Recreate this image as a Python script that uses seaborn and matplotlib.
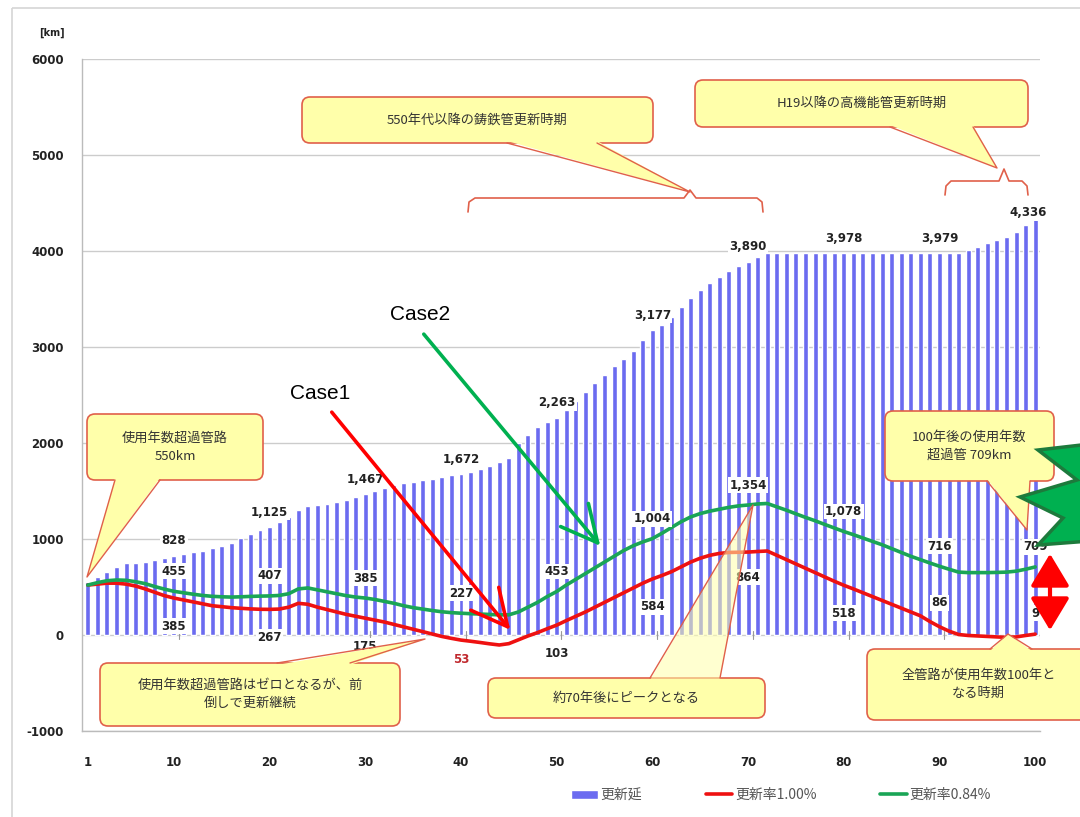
import matplotlib
matplotlib.use("Agg")
import numpy as np
import pandas as pd
import matplotlib.pyplot as plt
import matplotlib.transforms as mtransforms
from matplotlib.patches import Polygon, FancyBboxPatch, FancyArrowPatch, Rectangle
from matplotlib.lines import Line2D
import seaborn as sns

# ---- data -------------------------------------------------------------
years = list(range(1, 101))

renewal_length = [
    550, 604, 660, 705, 745, 752, 762, 780, 805, 828,
    845, 860, 880, 905, 930, 960, 1010, 1050, 1090, 1125,
    1175, 1230, 1300, 1340, 1350, 1360, 1385, 1410, 1440, 1467,
    1500, 1528, 1560, 1585, 1595, 1612, 1630, 1650, 1662, 1672,
    1700, 1730, 1760, 1800, 1845, 2000, 2083, 2167, 2215, 2263,
    2344, 2440, 2534, 2621, 2708, 2800, 2880, 2960, 3070, 3177,
    3230, 3310, 3415, 3510, 3590, 3665, 3730, 3790, 3840, 3890,
    3935, 3978, 3978, 3978, 3978, 3978, 3978, 3978, 3978, 3978,
    3978, 3978, 3978, 3978, 3978, 3978, 3978, 3978, 3979, 3979,
    3979, 3979, 4010, 4042, 4083, 4115, 4146, 4198, 4271, 4336,
]

rate_100 = [
    520, 530, 540, 540, 530, 510, 480, 445, 410, 385,
    365, 345, 325, 305, 295, 285, 278, 272, 268, 267,
    270, 290, 330, 320, 290, 265, 240, 215, 195, 175,
    155, 135, 110, 85, 60, 35, 10, -15, -35, -53,
    -65, -78, -92, -104, -90, -50, -10, 25, 65, 103,
    150, 195, 240, 290, 340, 390, 440, 490, 540, 584,
    620, 660, 710, 760, 800, 830, 850, 860, 862, 864,
    870, 875, 830, 785, 740, 695, 650, 605, 560, 518,
    480, 440, 400, 360, 320, 280, 240, 200, 140, 86,
    40, 5, -5, -10, -15, -20, -25, -20, -5, 9,
]

rate_084 = [
    520, 545, 565, 573, 570, 555, 535, 505, 478, 455,
    440, 425, 412, 403, 398, 395, 398, 402, 405, 407,
    412, 430, 480, 490, 470, 450, 430, 410, 395, 385,
    370, 350, 330, 305, 285, 270, 255, 242, 233, 227,
    222, 218, 214, 210, 210, 240, 290, 340, 400, 453,
    520, 580, 640, 700, 760, 820, 880, 930, 970, 1004,
    1060, 1120, 1180, 1230, 1265, 1290, 1310, 1330, 1345, 1354,
    1365, 1370, 1335, 1300, 1262, 1225, 1190, 1152, 1115, 1078,
    1045, 1010, 975, 940, 900, 860, 820, 785, 750, 716,
    685, 655, 650, 650, 650, 652, 655, 665, 685, 709,
]

label_years = [10, 20, 30, 40, 50, 60, 70, 80, 90, 100]
x_ticks = [1, 10, 20, 30, 40, 50, 60, 70, 80, 90, 100]
y_ticks = [-1000, 0, 1000, 2000, 3000, 4000, 5000, 6000]

series_names = ["更新延", "更新率1.00%", "更新率0.84%"]

df = pd.DataFrame({"year": years, "length": renewal_length,
                   "r100": rate_100, "r084": rate_084})

# ---- style ------------------------------------------------------------
sns.set_theme(style="white")
JP = ["Noto Sans CJK JP", "DejaVu Sans"]
plt.rcParams["font.family"] = JP

BAR = "#6b6bf0"
RED = "#ee1111"
GREEN = "#1aa556"
FILL = "#ffffaa"
EDGE = "#e0604a"

fig = plt.figure(figsize=(10.8, 8.17), dpi=100)
W, H = 1080, 817
ax = fig.add_axes([82 / W, 1 - 731 / H, 958 / W, 672 / H])

# pixel-based transform for callouts and decorations
PIX = mtransforms.Affine2D().scale(1 / W, -1 / H).translate(0, 1) + fig.transFigure

# ---- marks ------------------------------------------------------------
sns.barplot(data=df, x="year", y="length", native_scale=True, color=BAR,
            saturation=1, width=0.52, ax=ax, label=series_names[0], zorder=2)
sns.lineplot(data=df, x="year", y="r100", color=RED, linewidth=2.6, ax=ax,
             label=series_names[1], zorder=4)
sns.lineplot(data=df, x="year", y="r084", color=GREEN, linewidth=2.6, ax=ax,
             label=series_names[2], zorder=4)

ax.set_xlim(0.4, 100.5)
ax.set_ylim(-1000, 6000)
ax.set_xticks(x_ticks)
ax.set_yticks(y_ticks)
ax.set_xticklabels([str(t) for t in x_ticks], fontsize=8.5, fontweight="bold",
                   color="#222222", family=["DejaVu Sans"])
ax.set_yticklabels([str(t) for t in y_ticks], fontsize=8.5, fontweight="bold",
                   color="#222222", family=["DejaVu Sans"])
ax.tick_params(axis="x", length=0, pad=18)
ax.tick_params(axis="y", length=5, color="#bbbbbb", pad=8)
ax.set_xlabel("")
ax.set_ylabel("")
ax.grid(axis="y", color="#cccccc", linewidth=1, zorder=0)
ax.set_axisbelow(True)
for side in ["top", "right"]:
    ax.spines[side].set_visible(False)
for side in ["left", "bottom"]:
    ax.spines[side].set_color("#bbbbbb")
    ax.spines[side].set_linewidth(1)

# small category marks along the zero line
for t in label_years:
    ax.plot([t + 0.5, t + 0.5], [-45, 45], color="#999999", lw=0.8, zorder=3)

ax.text(-0.045, 1.035, "[km]", transform=ax.transAxes, fontsize=7,
        fontweight="bold", color="#222222", family=["DejaVu Sans"])

# ---- value labels -----------------------------------------------------
lab_kw = dict(textcoords="offset pixels", ha="center", va="center",
              fontsize=8.5, fontweight="bold", family=["DejaVu Sans"],
              zorder=6,
              bbox=dict(boxstyle="square,pad=0.12", fc="white", ec="none"))

bar_off = {10: (0, 15), 100: (-7, 6)}
red_off = {40: (0, -19), 70: (0, -25), 90: (0, 24), 100: (0, 21)}
for yr in label_years:
    i = yr - 1
    v = renewal_length[i]
    ax.annotate(f"{v:,}", (yr, v), xytext=bar_off.get(yr, (0, 15)),
                color="#222222", **lab_kw)
    g = rate_084[i]
    ax.annotate(f"{g:,}", (yr, g), xytext=(0, 20), color="#222222", **lab_kw)
    r = rate_100[i]
    ax.annotate(f"{abs(r):,}", (yr, r), xytext=red_off.get(yr, (0, -28)),
                color="#c0282d" if r < 0 else "#222222", **lab_kw)


# ---- callouts ---------------------------------------------------------
def callout(box, base, tip, text, fs=9.5, wedge_alpha=1.0):
    x0, y0, x1, y1 = box
    fig.add_artist(FancyBboxPatch(
        (x0, y0), x1 - x0, y1 - y0,
        boxstyle="round,pad=0,rounding_size=8", transform=PIX,
        fc=FILL, ec=EDGE, lw=1.2, zorder=10, clip_on=False))
    (bx1, by1), (bx2, by2) = base
    # fill of the pointer, reaching slightly inside the box
    inward = 2 if by1 >= y1 - 1 else -2
    fig.add_artist(Polygon(
        [(bx1, by1 - inward), tip, (bx2, by2 - inward)], closed=True,
        transform=PIX, fc=FILL, ec="none", alpha=wedge_alpha, zorder=10.5))
    fig.add_artist(Line2D([bx1, tip[0], bx2], [by1, tip[1], by2],
                          transform=PIX, color=EDGE, lw=1.0, zorder=10.6))
    fig.text((x0 + x1) / 2 / W, 1 - (y0 + y1) / 2 / H, text, ha="center",
             va="center", fontsize=fs, color="#333333", family=JP,
             zorder=11, linespacing=1.5)


callout((302, 97, 653, 143), ((507, 143), (597, 143)), (690, 192),
        "550年代以降の鋳鉄管更新時期")
callout((695, 80, 1028, 127), ((890, 127), (973, 127)), (997, 168),
        "H19以降の高機能管更新時期")
callout((87, 414, 263, 480), ((115, 480), (160, 480)), (87, 577),
        "使用年数超過管路\n550km")
callout((100, 663, 400, 726), ((277, 663), (350, 663)), (425, 639),
        "使用年数超過管路はゼロとなるが、前\n倒しで更新継続")
callout((488, 678, 765, 718), ((650, 678), (720, 678)), (753, 505),
        "約70年後にピークとなる", wedge_alpha=0.55)
callout((885, 411, 1054, 481), ((987, 481), (1030, 481)), (1027, 530),
        "100年後の使用年数\n超過管 709km")
callout((867, 649, 1090, 720), ((990, 649), (1032, 649)), (1008, 634),
        "全管路が使用年数100年と\nなる時期")

# period braces
fig.add_artist(Line2D([468, 469, 475, 684, 690, 696, 757, 762, 763],
                      [212, 202, 198, 198, 190, 198, 198, 202, 212],
                      transform=PIX, color=EDGE, lw=1.2, zorder=9))
fig.add_artist(Line2D([945, 946, 951, 999, 1004, 1009, 1022, 1027, 1028],
                      [195, 186, 181, 181, 169, 181, 181, 186, 195],
                      transform=PIX, color=EDGE, lw=1.2, zorder=9))

# case labels and pointers
fig.text(420 / W, 1 - 315 / H, "Case2", ha="center", va="center",
         fontsize=15, color="black", family=["Liberation Sans"], zorder=12)
fig.text(320 / W, 1 - 393 / H, "Case1", ha="center", va="center",
         fontsize=15, color="black", family=["Liberation Sans"], zorder=12)
fig.add_artist(FancyArrowPatch((422, 332), (602, 548), transform=PIX,
                               arrowstyle="->,head_length=1.3,head_width=0.65",
                               mutation_scale=20, color="#00b050", lw=2.6,
                               zorder=12))
fig.add_artist(FancyArrowPatch((330, 410), (512, 632), transform=PIX,
                               arrowstyle="->,head_length=1.3,head_width=0.65",
                               mutation_scale=20, color="#ff0000", lw=2.6,
                               zorder=12))

# starburst and gap arrow at the right edge
fig.add_artist(Polygon([(1038, 450), (1090, 444), (1090, 541), (1038, 545),
                        (1063, 518), (1020, 497), (1077, 480)], closed=True,
                       transform=PIX, fc="#00b050", ec="#1d7a3c", lw=2.5,
                       zorder=13))
fig.add_artist(FancyArrowPatch((1050, 551), (1050, 633), transform=PIX,
                               arrowstyle="<|-|>,head_length=1.0,head_width=0.6",
                               mutation_scale=20, color="#ff0000", lw=3,
                               zorder=13))

# outer frame
fig.add_artist(Rectangle((12, 8), 1100, 900, transform=PIX, fill=False,
                         ec="#d6d6d6", lw=1.2, zorder=0))

# ---- legend -----------------------------------------------------------
handles, labels = ax.get_legend_handles_labels()
if ax.get_legend() is not None:
    ax.get_legend().remove()
by_label = dict(zip(labels, handles))
handles = [by_label[n] for n in series_names]
leg = fig.legend(handles, series_names, loc="center",
                 bbox_to_anchor=(781 / W, 1 - 795 / H), ncol=3, frameon=False,
                 fontsize=10, handlelength=1.9, handleheight=0.6,
                 columnspacing=4.6, handletextpad=0.2)
for t in leg.get_texts():
    t.set_color("#555555")
    t.set_family(JP)

fig.savefig("out.png", dpi=100)
